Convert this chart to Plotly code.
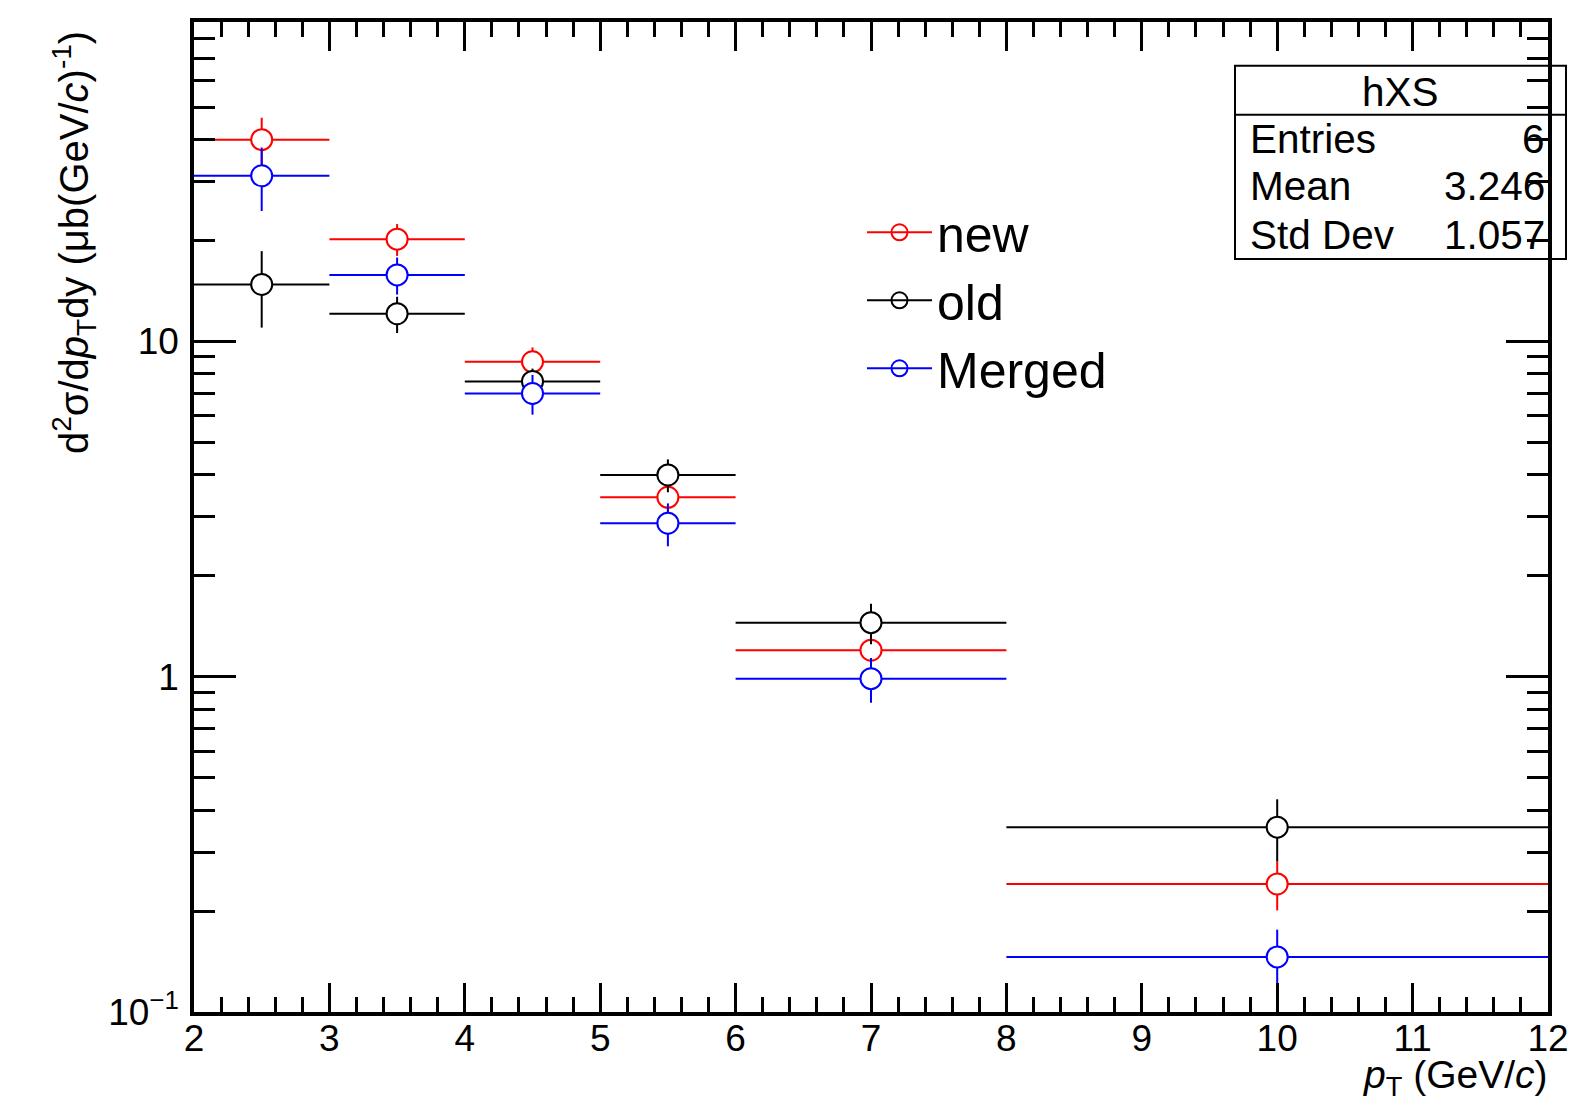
import plotly.graph_objects as go

# ---- data ----
bin_centers = [2.5, 3.5, 4.5, 5.5, 7.0, 10.0]
bin_halfwidths = [0.5, 0.5, 0.5, 0.5, 1.0, 2.0]

new_vals = [40.0, 20.2, 8.7, 3.43, 1.20, 0.241]
new_errs = [6.5, 2.2, 0.9, 0.40, 0.13, 0.040]

old_vals = [14.8, 12.1, 7.6, 4.0, 1.45, 0.356]
old_errs = [3.8, 1.5, 0.7, 0.45, 0.20, 0.075]

merged_vals = [31.2, 15.8, 7.0, 2.87, 0.987, 0.146]
merged_errs = [6.7, 2.0, 0.95, 0.42, 0.15, 0.030]

series_names = ["new", "old", "Merged"]
series_colors = ["#ff0000", "#000000", "#0000ff"]

stats_labels = ["Entries", "Mean", "Std Dev"]
stats_values = ["6", "3.246", "1.057"]

x_tickvals = [2, 3, 4, 5, 6, 7, 8, 9, 10, 11, 12]
y_tickvals = [0.1, 1, 10]
y_ticktext = ["10<sup>\u22121</sup>", "1", "10"]

FONT = "Liberation Sans, Arial, Helvetica, sans-serif"

# page geometry (the page body adds an 8 px offset)
OFF = 8
PAGE_W, PAGE_H = 1579, 1102
L, R, T, B = 194, 1548, 18, 1012
W, H = R - L, B - T


def px(x):
    return (x - L) / W


def py(y):
    return (B - y) / H


fig = go.Figure()

all_vals = [new_vals, old_vals, merged_vals]
all_errs = [new_errs, old_errs, merged_errs]

for name, color, vals, errs in zip(series_names, series_colors, all_vals, all_errs):
    fig.add_trace(go.Scatter(
        x=bin_centers, y=vals, mode="markers", name=name, showlegend=False,
        marker=dict(symbol="circle", size=21, color="white",
                    line=dict(color=color, width=2)),
        error_x=dict(type="data", array=bin_halfwidths, color=color, thickness=2, width=0),
        error_y=dict(type="data", array=errs, color=color, thickness=2, width=0),
    ))

for name, color in zip(series_names, series_colors):
    fig.add_trace(go.Scatter(
        x=[None], y=[None], mode="lines+markers", name=name,
        line=dict(color=color, width=2),
        marker=dict(symbol="circle-open", size=20, color=color, line=dict(width=2)),
    ))

fig.update_xaxes(
    range=[2, 12], tickvals=x_tickvals, ticks="inside", ticklen=29, tickwidth=3,
    tickcolor="black", showline=True, linewidth=3.5, linecolor="black", mirror="ticks",
    showgrid=False, zeroline=False, ticklabelstandoff=-9,
    tickfont=dict(family=FONT, size=37, color="black"),
    minor=dict(dtick=0.2, ticks="inside", ticklen=15, tickwidth=3, tickcolor="black", showgrid=False),
)
fig.update_yaxes(
    type="log", range=[-1, 1.953], tickvals=y_tickvals, ticktext=y_ticktext,
    ticks="inside", ticklen=42, tickwidth=3, tickcolor="black",
    showline=True, linewidth=3.5, linecolor="black", mirror="ticks",
    showgrid=False, zeroline=False, ticklabelstandoff=4,
    tickfont=dict(family=FONT, size=37, color="black"),
    minor=dict(dtick="D1", ticks="inside", ticklen=21, tickwidth=3, tickcolor="black", showgrid=False),
)

shapes = [
    dict(type="rect", xref="paper", yref="paper", x0=px(1235), x1=px(1566), y0=py(256), y1=py(62),
         line=dict(color="black", width=2), fillcolor="rgba(255,255,255,0)", layer="above"),
    dict(type="line", xref="paper", yref="paper", x0=px(1235), x1=px(1566), y0=py(111), y1=py(111),
         line=dict(color="black", width=2), layer="above"),
]
SF = 40.5
annotations = [
    dict(text="hXS", x=px(1400), y=py(88), xref="paper", yref="paper", showarrow=False,
         xanchor="center", yanchor="middle", font=dict(family=FONT, size=SF, color="black")),
]
for lab, val, yy in zip(stats_labels, stats_values, [135, 183, 232]):
    annotations.append(dict(text=lab, x=px(1248), y=py(yy), xref="paper", yref="paper", showarrow=False,
                            xanchor="left", yanchor="middle", font=dict(family=FONT, size=SF, color="black")))
    annotations.append(dict(text=val, x=px(1547), y=py(yy), xref="paper", yref="paper", showarrow=False,
                            xanchor="right", yanchor="middle", font=dict(family=FONT, size=SF, color="black")))

annotations.append(dict(text="<i>p</i><sub>T</sub> (GeV/<i>c</i>)", x=px(1550), y=py(1078), xref="paper",
                        yref="paper", showarrow=False, xanchor="right", yanchor="middle",
                        font=dict(family=FONT, size=39, color="black")))
annotations.append(dict(text="d<sup>2</sup>\u03c3/d<i>p</i><sub>T</sub>dy (\u03bcb(GeV/<i>c</i>)<sup>-1</sup>)",
                        x=px(74), y=py(240), xref="paper", yref="paper", showarrow=False, textangle=-90,
                        xanchor="center", yanchor="middle",
                        font=dict(family=FONT, size=40, color="black")))

fig.update_layout(
    width=PAGE_W - OFF, height=PAGE_H - OFF,
    margin=dict(l=L - OFF, r=PAGE_W - R, t=T - OFF, b=PAGE_H - B, pad=0),
    paper_bgcolor="white", plot_bgcolor="white",
    font=dict(family=FONT, color="black"),
    showlegend=True,
    legend=dict(x=px(862), y=py(190), xanchor="left", yanchor="top",
                bgcolor="rgba(255,255,255,0)", font=dict(family=FONT, size=50, color="black"),
                itemwidth=65, tracegroupgap=0),
    shapes=shapes, annotations=annotations,
)

fig.write_html("out.html")
